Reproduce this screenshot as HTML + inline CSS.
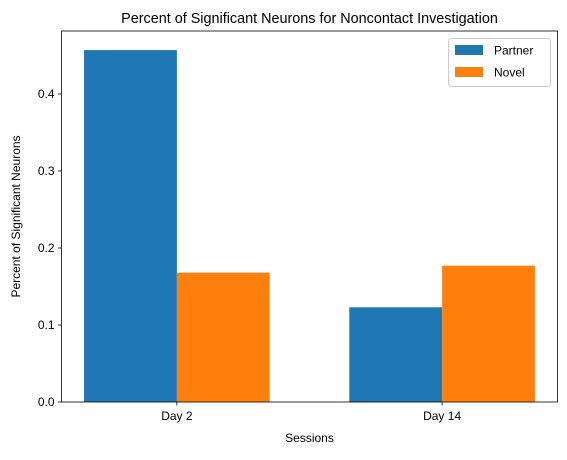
<!DOCTYPE html>
<html><head><meta charset="utf-8"><style>
body{margin:0;background:#fff;}
svg text{font-family:"Liberation Sans","DejaVu Sans",sans-serif;fill:#000;}
</style></head><body>
<svg id="chart" width="567" height="455" xmlns="http://www.w3.org/2000/svg"></svg>
<script>
const categories = ["Day 2", "Day 14"];
const partnerValues = [0.457, 0.123];
const novelValues = [0.168, 0.177];
const yTicks = [0.0, 0.1, 0.2, 0.3, 0.4];
const yTickLabels = ["0.0", "0.1", "0.2", "0.3", "0.4"];

const svg = document.getElementById('chart');
const NS = 'http://www.w3.org/2000/svg';
const L = 61.5, R = 557.5, T = 31, B = 402;
const xMin = -0.435, xMax = 1.435, yMax = 0.4818;
const xs = v => L + (v - xMin) / (xMax - xMin) * (R - L);
const ys = v => B - v / yMax * (B - T);
function mk(tag, attrs, parent) {
  const e = document.createElementNS(NS, tag);
  for (const k in attrs) e.setAttribute(k, attrs[k]);
  (parent || svg).appendChild(e);
  return e;
}
const W = 0.35;
const series = [
  {name: 'partner', vals: partnerValues, color: '#1f77b4', off: -W / 2},
  {name: 'novel', vals: novelValues, color: '#ff7f0e', off: W / 2}
];
series.forEach(s => {
  s.vals.forEach((v, i) => {
    const x0 = xs(i + s.off - W / 2), x1 = xs(i + s.off + W / 2);
    const r = mk('rect', {x: x0, y: ys(v), width: x1 - x0, height: ys(0) - ys(v), fill: s.color});
    
    
  });
});
// axes frame
const frame = mk('rect', {x: L, y: T, width: R - L, height: B - T, fill: 'none', stroke: '#000', 'stroke-width': 0.8});


// y ticks
yTicks.forEach((v, i) => {
  const y = ys(v);
  mk('line', {x1: L - 3.5, x2: L, y1: y, y2: y, stroke: '#000', 'stroke-width': 0.8});
  const t = mk('text', {x: L - 7, y: y + 4, 'text-anchor': 'end', 'font-size': 12});
  t.textContent = yTickLabels[i];
  
  
});
// x ticks
categories.forEach((c, i) => {
  const x = xs(i);
  mk('line', {x1: x, x2: x, y1: B, y2: B + 3.5, stroke: '#000', 'stroke-width': 0.8});
  const t = mk('text', {x: x, y: B + 18, 'text-anchor': 'middle', 'font-size': 12});
  t.textContent = c;
  
  
});
const xt = mk('text', {x: (L + R) / 2, y: 442, 'text-anchor': 'middle', 'font-size': 12});
xt.textContent = 'Sessions';


const yt = mk('text', {x: 0, y: 0, 'text-anchor': 'middle', 'font-size': 12, transform: 'translate(20,' + (T + B) / 2 + ') rotate(-90)'});
yt.textContent = 'Percent of Significant Neurons';


const title = mk('text', {x: (L + R) / 2, y: 23, 'text-anchor': 'middle', 'font-size': 14.4});
title.textContent = 'Percent of Significant Neurons for Noncontact Investigation';


// legend
const lg = mk('g', {});


mk('rect', {x: 448.5, y: 38.5, width: 102, height: 48, rx: 3, fill: '#fff', stroke: '#ccc', 'stroke-width': 1}, lg);
series.forEach((s, i) => {
  const y = 45 + i * 22;
  const sw = mk('rect', {x: 455, y: y, width: 28, height: 10, fill: s.color}, lg);
  
  
  const t = mk('text', {x: 494, y: y + 9.5, 'font-size': 12}, lg);
  t.textContent = i === 0 ? 'Partner' : 'Novel';
  
  
});
</script>
</body></html>
